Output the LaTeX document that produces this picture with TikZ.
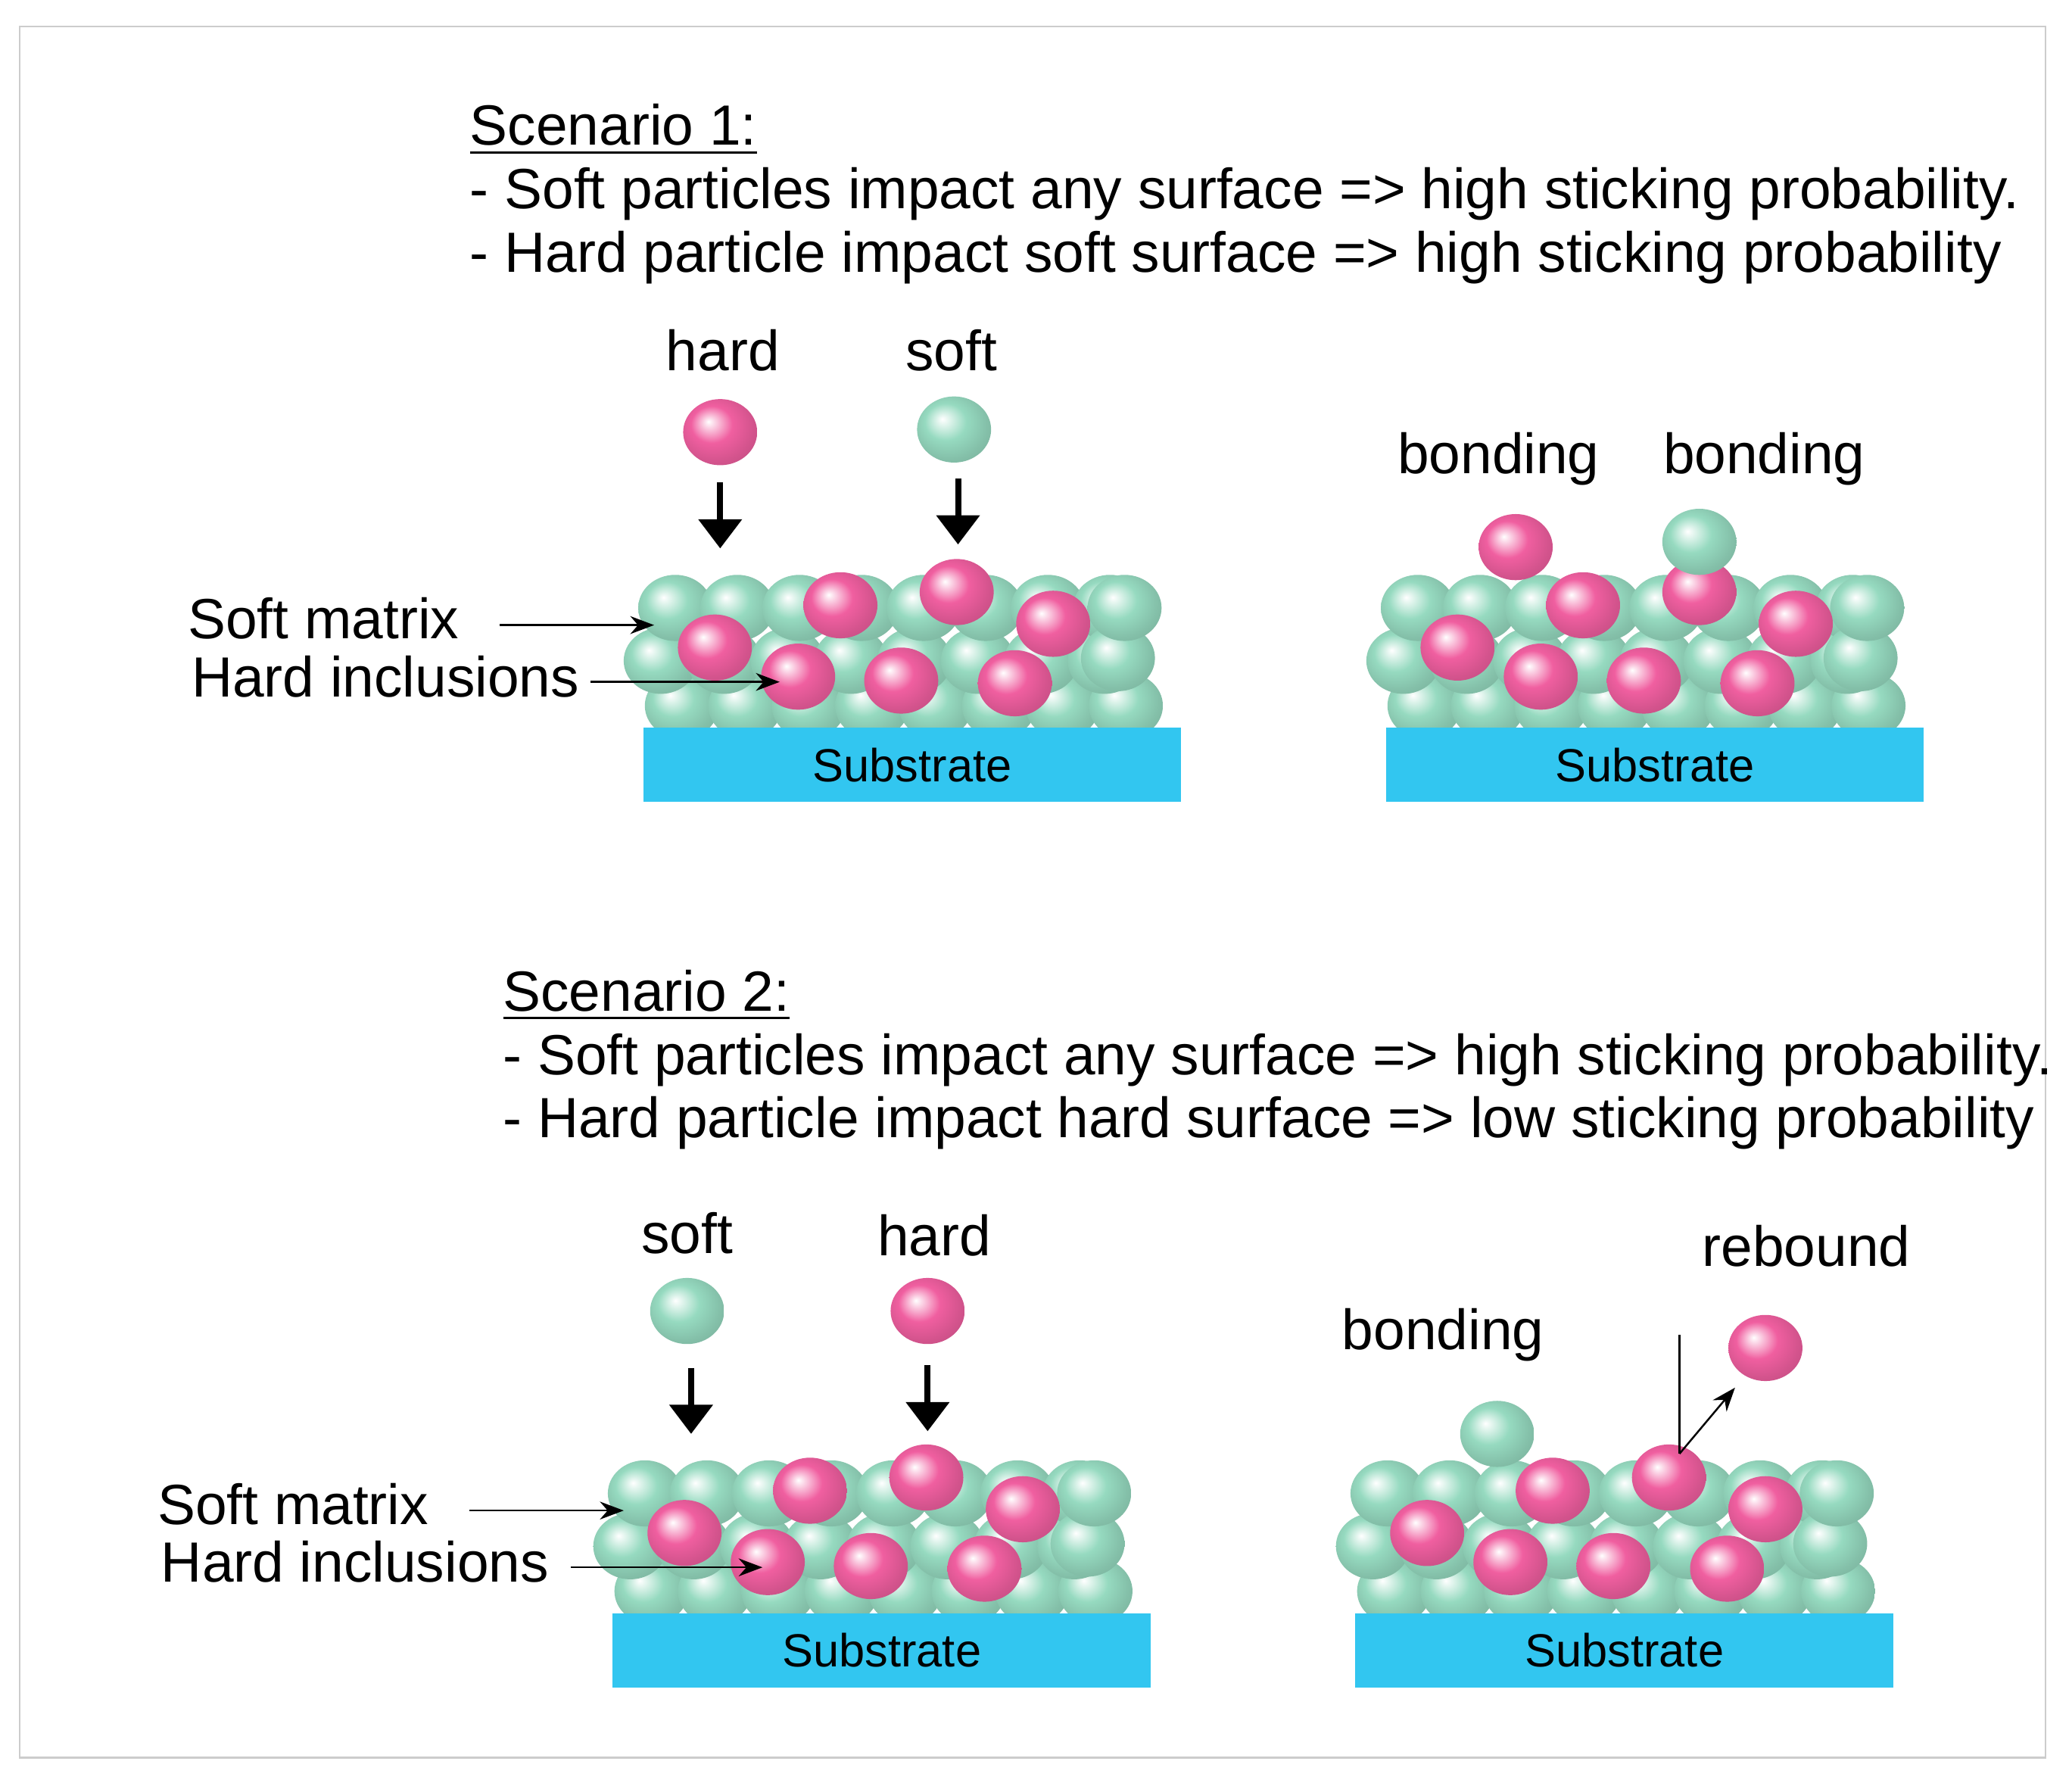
\documentclass[tikz,border=0pt]{standalone}
\usepackage{fontspec}
\setmainfont{Liberation Sans}
\usetikzlibrary{arrows.meta,shapes.geometric,positioning}
\definecolor{mint}{RGB}{150,218,192}
\definecolor{rose}{RGB}{240,95,160}
\definecolor{subcyan}{RGB}{50,198,240}
\pgfdeclareradialshading{softball}{\pgfpoint{-8bp}{8bp}}{color(0bp)=(white); color(14bp)=(mint); color(26bp)=(mint!88!black); color(50bp)=(mint!70!black)}
\pgfdeclareradialshading{hardball}{\pgfpoint{-8bp}{8bp}}{color(0bp)=(white); color(14bp)=(rose); color(26bp)=(rose!88!black); color(50bp)=(rose!70!black)}

\begin{document}
\begin{tikzpicture}[x=0.01cm,y=-0.01cm,font=\fontsize{12.2}{14}\selectfont,
  soft/.style={ellipse, minimum width=0.56cm, minimum height=0.5cm, inner sep=0pt, shading=softball},
  hard/.style={ellipse, minimum width=0.56cm, minimum height=0.5cm, inner sep=0pt, shading=hardball},
  substrate/.style={fill=subcyan, draw=none, minimum width=4.07cm, minimum height=0.56cm, inner sep=0pt, font=\fontsize{10}{12}\selectfont},
  drop/.style={line width=1.3pt, -{Triangle[length=2.2mm,width=3.2mm]}},
  pointer/.style={thin, -{Stealth[length=1.8mm]}},
  txt/.style={anchor=base west, inner sep=0pt},
]
\useasboundingbox (0,0) rectangle (1568,1349);
\draw[gray!40] (15,20) rectangle (1548,1330);

% texts
\node[txt] (t1) at (355,110) {\underline{Scenario 1:}};
\node[txt] (t2) at (355,158) {- Soft particles impact any surface => high sticking probability.};
\node[txt] (t3) at (355,206) {- Hard particle impact soft surface => high sticking probability};
\node[txt] (t4) at (380,765) {\underline{Scenario 2:}};
\node[txt] (t5) at (380,813) {- Soft particles impact any surface => high sticking probability.};
\node[txt] (t6) at (380,861) {- Hard particle impact hard surface => low sticking probability};

% particle beds
\foreach \bx/\by/\tag in {486/550/a, 1048/550/b, 463/1220/c, 1025/1220/d}{
  \foreach \k in {0,...,7}{
    \node[soft] (\tag r3\k) at ({\bx+30+48*\k},\by-16) {};
    \node[soft] (\tag r2\k) at ({\bx+14+48*\k},\by-50) {};
    \node[soft] (\tag r1\k) at ({\bx+25+47*\k},\by-90) {};
  }
  \node[soft] (\tag r2x) at (\bx+360,\by-52) {};
  \node[soft] (\tag r1x) at (\bx+365,\by-90) {};
  \node[substrate, anchor=north west] (\tag sub) at (\bx,\by) {Substrate};
}
\foreach \bx/\by/\tag in {486/550/a, 1048/550/b, 463/1220/c, 1025/1220/d}{
  \foreach \dx/\dy [count=\i] in {150/-92, 238/-102, 311/-78, 55/-60, 118/-38, 196/-35, 282/-33}
    \node[hard] (\tag h\i) at (\bx+\dx,\by+\dy) {};
}

% scenario 1, left
\node[hard] (hA) at (545,327) {};
\node[soft] (sA) at (722,325) {};
\node (lhA) at (547,265) {hard};
\node (lsA) at (720,265) {soft};
\coordinate (hAs) at (545,365);
\coordinate (hAe) at (545,415);
\coordinate (sAs) at (725,362);
\coordinate (sAe) at (725,412);
\draw[drop] (hAs) -- (hAe);
\draw[drop] (sAs) -- (sAe);
\node[anchor=east, inner sep=0pt] (smA) at (348,468) {Soft matrix};
\node[anchor=east, inner sep=0pt] (hiA) at (439,512) {Hard inclusions};
\coordinate (smAs) at (378,473);
\coordinate (smAe) at (495,473);
\coordinate (hiAs) at (447,516);
\coordinate (hiAe) at (590,516);
\draw[pointer] (smAs) -- (smAe);
\draw[pointer] (hiAs) -- (hiAe);

% scenario 1, right
\node[hard] (hB) at (1147,414) {};
\node[soft] (sB) at (1286,410) {};
\node (bB1) at (1134,347) {bonding};
\node (bB2) at (1335,347) {bonding};

% scenario 2, left
\node[soft] (sC) at (520,992) {};
\node[hard] (hC) at (702,992) {};
\node (lsC) at (520,933) {soft};
\node (lhC) at (707,935) {hard};
\coordinate (sCs) at (523,1035);
\coordinate (sCe) at (523,1085);
\coordinate (hCs) at (702,1033);
\coordinate (hCe) at (702,1083);
\draw[drop] (sCs) -- (sCe);
\draw[drop] (hCs) -- (hCe);
\node[anchor=east, inner sep=0pt] (smC) at (325,1138) {Soft matrix};
\node[anchor=east, inner sep=0pt] (hiC) at (416,1182) {Hard inclusions};
\coordinate (smCs) at (355,1143);
\coordinate (smCe) at (472,1143);
\coordinate (hiCs) at (432,1186);
\coordinate (hiCe) at (577,1186);
\draw[pointer] (smCs) -- (smCe);
\draw[pointer] (hiCs) -- (hiCe);

% scenario 2, right
\node[soft] (sD) at (1133,1085) {};
\node[hard] (hD) at (1336,1020) {};
\node (bD) at (1092,1010) {bonding};
\node (rD) at (1367,943) {rebound};
\coordinate (vD) at (1271,1010);
\coordinate (pD) at (1271,1100);
\coordinate (qD) at (1313,1050);
\draw[thin] (vD) -- (pD);
\draw[pointer] (pD) -- (qD);
\end{tikzpicture}
\end{document}
